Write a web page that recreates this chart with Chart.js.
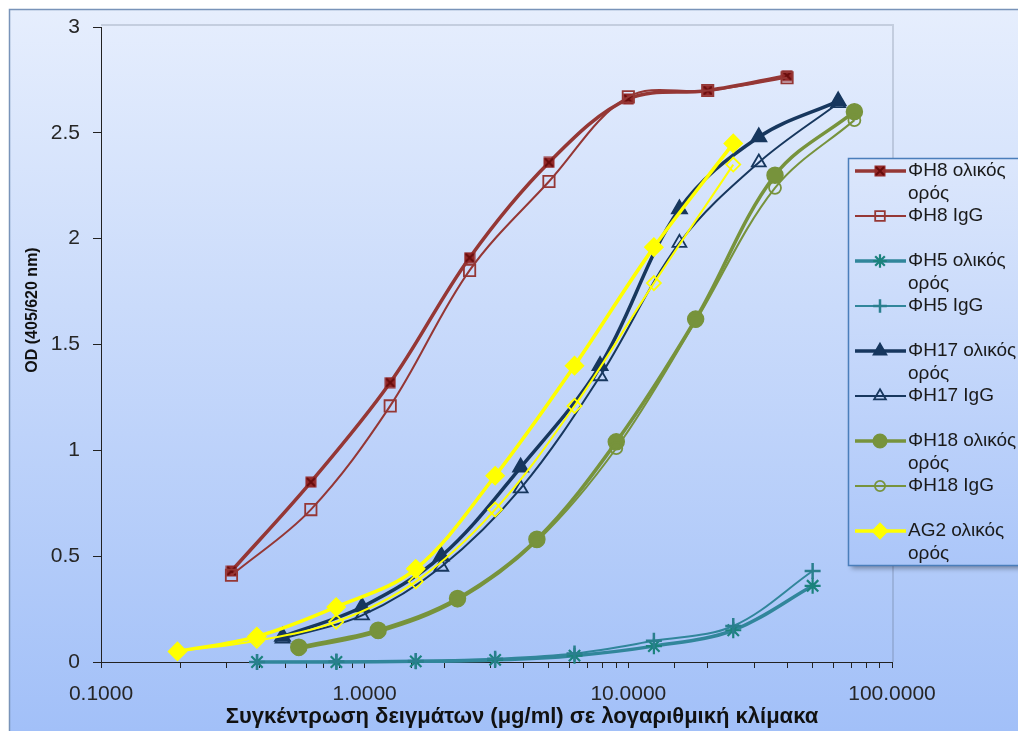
<!DOCTYPE html>
<html>
<head>
<meta charset="utf-8">
<script src="https://cdn.jsdelivr.net/npm/chart.js@4/dist/chart.umd.min.js"></script>
<style>
  html, body { margin: 0; padding: 0; background: #fff; }
  #wrap { width: 1018px; height: 731px; position: relative; }
</style>
</head>
<body>
<div id="wrap"><canvas id="odChart" width="1018" height="731"></canvas></div>
<script>
// ---- data ----
const concH8  = [0.3125, 0.625, 1.25, 2.5, 5, 10, 20, 40];
const concH5  = [0.390625, 0.78125, 1.5625, 3.125, 6.25, 12.5, 25, 50];
const concH17 = [0.488, 0.977, 1.953, 3.906, 7.8125, 15.625, 31.25, 62.5];
const concH18 = [0.5625, 1.125, 2.25, 4.5, 9, 18, 36, 72];
const concAG2 = [0.195, 0.39, 0.78, 1.5625, 3.125, 6.25, 12.5, 25];

const h8Total  = [0.43, 0.85, 1.32, 1.91, 2.36, 2.66, 2.70, 2.77];
const h8IgG    = [0.41, 0.72, 1.21, 1.85, 2.27, 2.67, 2.70, 2.76];
const h5Total  = [0.00, 0.00, 0.003, 0.01, 0.03, 0.075, 0.15, 0.36];
const h5IgG    = [0.00, 0.002, 0.005, 0.015, 0.04, 0.10, 0.17, 0.43];
const h17Total = [0.12, 0.26, 0.50, 0.92, 1.40, 2.14, 2.48, 2.65];
const h17IgG   = [0.11, 0.22, 0.45, 0.82, 1.35, 1.98, 2.36, 2.64];
const h18Total = [0.07, 0.15, 0.30, 0.58, 1.04, 1.62, 2.30, 2.60];
const h18IgG   = [0.06, 0.14, 0.29, 0.57, 1.01, 1.61, 2.24, 2.56];
const ag2Total = [0.05, 0.12, 0.26, 0.44, 0.88, 1.40, 1.96, 2.45];
const ag2IgG   = [0.05, 0.10, 0.19, 0.38, 0.72, 1.21, 1.79, 2.35];

const seriesNames = [
  'ΦΗ8 ολικός ορός', 'ΦΗ8 IgG',
  'ΦΗ5 ολικός ορός', 'ΦΗ5 IgG',
  'ΦΗ17 ολικός ορός', 'ΦΗ17 IgG',
  'ΦΗ18 ολικός ορός', 'ΦΗ18 IgG',
  'AG2 ολικός ορός', 'AG2 IgG'
];
const yTicks = [0, 0.5, 1, 1.5, 2, 2.5, 3];
const xTitle = 'Συγκέντρωση δειγμάτων (μg/ml) σε λογαριθμική κλίμακα';
const yTitle = 'OD (405/620 nm)';

const FONT = '"Liberation Sans", Arial, sans-serif';
const NONE = 'rgba(0,0,0,0)';

// filled square with an X, like the Excel marker
function squareX(size, fill, cross) {
  const c = document.createElement('canvas');
  c.width = c.height = size;
  const g = c.getContext('2d');
  g.fillStyle = fill;
  g.fillRect(0.5, 0.5, size - 1, size - 1);
  g.strokeStyle = cross;
  g.lineWidth = 2;
  g.beginPath();
  g.moveTo(2, 2); g.lineTo(size - 2, size - 2);
  g.moveTo(size - 2, 2); g.lineTo(2, size - 2);
  g.stroke();
  return c;
}

const pts = (xs, ys) => xs.map((x, i) => ({ x: x, y: ys[i] }));

function series(i, xs, ys, o) {
  return {
    label: seriesNames[i],
    data: pts(xs, ys),
    borderColor: o.color,
    borderWidth: o.thick ? 3.5 : 2,
    pointStyle: o.style,
    pointRadius: o.radius,
    pointBackgroundColor: o.fill,
    pointBorderColor: o.markColor || o.color,
    pointBorderWidth: o.pbw || 1.5,
    tension: 0.35,
    fill: false,
    clip: false,
    order: 9 - i,
    inLegend: i < 9
  };
}

const RED = '#953735', TEAL = '#31869b', NAVY = '#17375e', OLIVE = '#77933c', YEL = '#ffff00';

const datasets = [
  series(0, concH8, h8Total,   { color: RED, thick: true, style: squareX(12, '#952a2a', '#680c0c'), radius: 6, fill: '#952a2a' }),
  series(1, concH8, h8IgG,     { color: RED, style: 'rect', radius: 8, fill: NONE, pbw: 1.8 }),
  series(2, concH5, h5Total,   { color: TEAL, thick: true, style: 'star', radius: 8, fill: NONE, markColor: '#1b827d', pbw: 2.2 }),
  series(3, concH5, h5IgG,     { color: TEAL, style: 'cross', radius: 8, fill: NONE, markColor: '#2a7f8e', pbw: 2.5 }),
  series(4, concH17, h17Total, { color: NAVY, thick: true, style: 'triangle', radius: 9, fill: NAVY }),
  series(5, concH17, h17IgG,   { color: NAVY, style: 'triangle', radius: 8, fill: NONE, pbw: 1.8 }),
  series(6, concH18, h18Total, { color: OLIVE, thick: true, style: 'circle', radius: 8, fill: OLIVE }),
  series(7, concH18, h18IgG,   { color: OLIVE, style: 'circle', radius: 6, fill: NONE, pbw: 1.8 }),
  series(8, concAG2, ag2Total, { color: YEL, thick: true, style: 'rectRot', radius: 9, fill: YEL }),
  series(9, concAG2, ag2IgG,   { color: YEL, style: 'rectRot', radius: 7, fill: NONE, pbw: 1.8 })
];

// background frame, plot shading, axis titles and the boxed legend
const decorPlugin = {
  id: 'decor',
  beforeDraw(chart) {
    const ctx = chart.ctx, W = chart.width, H = chart.height, a = chart.chartArea;
    ctx.save();
    ctx.fillStyle = '#fff';
    ctx.fillRect(0, 0, W, H);
    const g = ctx.createLinearGradient(0, 9, 0, H);
    g.addColorStop(0, '#e6eefd');
    g.addColorStop(1, '#a2c0f8');
    ctx.fillStyle = g;
    ctx.fillRect(9, 9, W, H);
    ctx.strokeStyle = '#7893b9';
    ctx.lineWidth = 1.5;
    ctx.beginPath();
    ctx.moveTo(9.5, H); ctx.lineTo(9.5, 9.5); ctx.lineTo(W, 9.5);
    ctx.stroke();
    // faint edge on top / right of plot area
    ctx.strokeStyle = 'rgba(80,95,120,0.22)';
    ctx.lineWidth = 2;
    ctx.beginPath();
    ctx.moveTo(a.left, a.top - 2); ctx.lineTo(a.right + 1, a.top - 2); ctx.lineTo(a.right + 1, a.bottom);
    ctx.stroke();
    ctx.restore();
  },
  afterDraw(chart) {
    const ctx = chart.ctx;
    ctx.save();
    // axis titles
    ctx.fillStyle = '#111';
    ctx.textAlign = 'center';
    ctx.textBaseline = 'middle';
    ctx.font = 'bold 22px ' + FONT;
    ctx.fillText(xTitle, 522, 717);
    ctx.save();
    ctx.translate(33, 310);
    ctx.rotate(-Math.PI / 2);
    ctx.font = 'bold 16px ' + FONT;
    ctx.fillText(yTitle, 0, 0);
    ctx.restore();

    // legend box
    const bx = 848.5, by = 158.5, bw = 200, bh = 407;
    ctx.save();
    ctx.shadowColor = 'rgba(0,0,0,0.35)';
    ctx.shadowBlur = 5;
    ctx.shadowOffsetX = 2;
    ctx.shadowOffsetY = 3;
    const lg = ctx.createLinearGradient(0, by, 0, by + bh);
    lg.addColorStop(0, '#dce7fc');
    lg.addColorStop(1, '#abc6f9');
    ctx.fillStyle = lg;
    ctx.fillRect(bx, by, bw, bh);
    ctx.restore();
    ctx.strokeStyle = '#4a7ebb';
    ctx.lineWidth = 1.5;
    ctx.strokeRect(bx, by, bw, bh);

    const items = chart.data.datasets.filter(d => d.inLegend);
    items.forEach((ds, i) => {
      const y = 171 + i * 45;
      ctx.strokeStyle = ds.borderColor;
      ctx.lineWidth = ds.borderWidth;
      ctx.beginPath();
      ctx.moveTo(855, y); ctx.lineTo(906, y);
      ctx.stroke();
      ctx.fillStyle = ds.pointBackgroundColor;
      ctx.strokeStyle = ds.pointBorderColor;
      ctx.lineWidth = ds.pointBorderWidth;
      Chart.helpers.drawPoint(ctx, {
        pointStyle: ds.pointStyle,
        radius: typeof ds.pointStyle === 'string' ? ds.pointRadius * 0.85 : ds.pointRadius,
        rotation: 0,
        borderWidth: ds.pointBorderWidth
      }, 880, y);
      ctx.fillStyle = '#1a1a1a';
      ctx.font = '19px ' + FONT;
      ctx.textAlign = 'left';
      ctx.textBaseline = 'middle';
      const words = ds.label.split(' ');
      if (words[words.length - 1] === 'ορός') {
        ctx.fillText(words.slice(0, -1).join(' '), 908, y);
        ctx.fillText('ορός', 908, y + 23);
      } else {
        ctx.fillText(ds.label, 908, y);
      }
    });
    ctx.restore();
  }
};

const isDecade = v => {
  const l = Math.log10(v);
  return Math.abs(l - Math.round(l)) < 1e-9;
};

new Chart(document.getElementById('odChart'), {
  type: 'line',
  data: { datasets: datasets },
  options: {
    responsive: false,
    animation: false,
    layout: { padding: { top: 27, right: 126, bottom: 0, left: 0 } },
    plugins: {
      legend: { display: false },
      tooltip: { enabled: false }
    },
    scales: {
      x: {
        type: 'logarithmic',
        min: 0.1,
        max: 100,
        afterFit: s => { s.height = 69; },
        grid: { drawOnChartArea: false, tickLength: 6, color: '#222' },
        border: { color: '#222', width: 1 },
        ticks: {
          autoSkip: false,
          maxRotation: 0,
          padding: 14,
          color: '#262626',
          font: { family: FONT, size: 21 },
          callback: v => isDecade(v) ? Number(v).toFixed(4) : ''
        }
      },
      y: {
        min: 0,
        max: 3,
        afterFit: s => { s.width = 101; },
        afterBuildTicks: s => { s.ticks = yTicks.map(v => ({ value: v })); },
        grid: { drawOnChartArea: false, tickLength: 8, color: '#222' },
        border: { color: '#222', width: 1 },
        ticks: {
          padding: 13,
          color: '#262626',
          font: { family: FONT, size: 21 },
          callback: v => String(v)
        }
      }
    }
  },
  plugins: [decorPlugin]
});
</script>
</body>
</html>
